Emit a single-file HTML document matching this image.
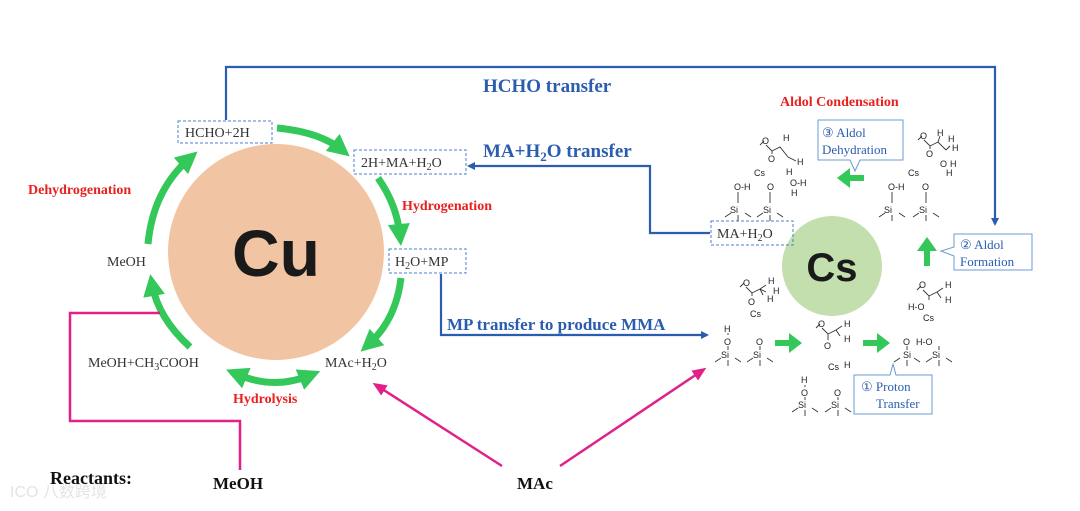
<!DOCTYPE html>
<html><head><meta charset="utf-8"><style>
html,body{margin:0;padding:0;background:#fff;width:1080px;height:511px;overflow:hidden}
svg{display:block}
.ser{font-family:"Liberation Serif",serif}
.b{font-weight:bold}
.m{font-family:"Liberation Sans",sans-serif;font-size:9px;fill:#222}
.ml{stroke:#333;stroke-width:0.9;fill:none}
</style></head><body>
<svg width="1080" height="511" viewBox="0 0 1080 511" xmlns="http://www.w3.org/2000/svg">
<defs>
<marker id="bl" markerWidth="8" markerHeight="8" refX="6" refY="4" orient="auto" markerUnits="userSpaceOnUse"><path d="M0,0 L8,4 L0,8 z" fill="#2a5db0"/></marker>
<marker id="mg" markerWidth="14" markerHeight="12" refX="10" refY="6" orient="auto" markerUnits="userSpaceOnUse"><path d="M0,0 L14,6 L0,12 z" fill="#e0218a"/></marker>
<marker id="gr" markerWidth="22" markerHeight="22" refX="12" refY="11" orient="auto" markerUnits="userSpaceOnUse"><path d="M0,0 L22,11 L0,22 z" fill="#34c759"/></marker>
<marker id="grs" markerWidth="22" markerHeight="22" refX="8" refY="11" orient="auto-start-reverse" markerUnits="userSpaceOnUse"><path d="M0,0 L22,11 L0,22 z" fill="#34c759"/></marker>
</defs>

<circle cx="276" cy="252" r="108" fill="#f1c4a3"/>
<text x="276" y="276" text-anchor="middle" font-family="Liberation Sans,sans-serif" font-weight="bold" font-size="66" fill="#1a1a1a">Cu</text>
<circle cx="832" cy="266" r="50" fill="#c3dfae"/>
<text x="832" y="281" text-anchor="middle" font-family="Liberation Sans,sans-serif" font-weight="bold" font-size="40" fill="#1a1a1a">Cs</text>

<g stroke="#34c759" stroke-width="7" fill="none">
<path d="M277,128 Q320,132 342,150" marker-end="url(#gr)"/>
<path d="M378,178 Q397,205 400,236" marker-end="url(#gr)"/>
<path d="M401,278 Q396,320 368,345" marker-end="url(#gr)"/>
<path d="M239,375 Q275,390 311,375" marker-start="url(#grs)" marker-end="url(#gr)"/>
<path d="M190,347 Q158,318 152,284" marker-end="url(#gr)"/>
<path d="M148,244 Q153,190 190,158" marker-end="url(#gr)"/>
</g>

<g class="ser" font-size="14" fill="#333">
<rect x="178" y="121" width="94" height="22" fill="none" stroke="#4a7fd0" stroke-dasharray="3,2"/>
<text x="185" y="137">HCHO+2H</text>
<rect x="354" y="150" width="112" height="24" fill="none" stroke="#4a7fd0" stroke-dasharray="3,2"/>
<text x="361" y="167">2H+MA+H<tspan font-size="10" dy="3">2</tspan><tspan dy="-3">O</tspan></text>
<rect x="389" y="249" width="77" height="24" fill="none" stroke="#4a7fd0" stroke-dasharray="3,2"/>
<text x="395" y="266">H<tspan font-size="10" dy="3">2</tspan><tspan dy="-3">O+MP</tspan></text>
<text x="107" y="266">MeOH</text>
<text x="88" y="367">MeOH+CH<tspan font-size="10" dy="3">3</tspan><tspan dy="-3">COOH</tspan></text>
<text x="325" y="367">MAc+H<tspan font-size="10" dy="3">2</tspan><tspan dy="-3">O</tspan></text>
<rect x="711" y="221" width="82" height="24" fill="none" stroke="#4a7fd0" stroke-dasharray="3,2"/>
<text x="717" y="238">MA+H<tspan font-size="10" dy="3">2</tspan><tspan dy="-3">O</tspan></text>
</g>
<g class="ser b" font-size="14" fill="#e8201e">
<text x="28" y="194">Dehydrogenation</text>
<text x="402" y="210">Hydrogenation</text>
<text x="233" y="403">Hydrolysis</text>
<text x="780" y="106">Aldol Condensation</text>
</g>

<g stroke="#2a5db0" stroke-width="2.2" fill="none">
<path d="M226,120 V67 H995 V224" marker-end="url(#bl)"/>
<path d="M710,233 H650 V166 H469" marker-end="url(#bl)"/>
<path d="M441,274 V335 H707" marker-end="url(#bl)"/>
</g>
<g class="ser b" fill="#2a5db0">
<text x="483" y="92" font-size="19">HCHO transfer</text>
<text x="483" y="157" font-size="19">MA+H<tspan font-size="13" dy="4">2</tspan><tspan dy="-4">O transfer</tspan></text>
<text x="447" y="330" font-size="17">MP transfer to produce MMA</text>
</g>

<g stroke="#e0218a" stroke-width="2.5" fill="none">
<path d="M160,313 H70 V421 H240 V470"/>
<path d="M502,466 L376,385" marker-end="url(#mg)"/>
<path d="M560,466 L703,370" marker-end="url(#mg)"/>
</g>
<text x="10" y="497" font-family="Liberation Sans,Noto Sans CJK SC,sans-serif" font-size="16" fill="#e4e4e4">ICO 八数跨境</text>
<g class="ser b" fill="#111">
<text x="50" y="484" font-size="18">Reactants:</text>
<text x="213" y="489" font-size="17">MeOH</text>
<text x="517" y="489" font-size="17">MAc</text>
</g>

<g fill="#34c759">
<path d="M775,340 h14 v-7 l13,10 l-13,10 v-7 h-14 z"/>
<path d="M863,340 h14 v-7 l13,10 l-13,10 v-7 h-14 z"/>
<path d="M924,266 v-15 h-7 l10,-14 l10,14 h-7 v15 z"/>
<path d="M864,175 h-14 v-7 l-13,10 l13,10 v-7 h14 z"/>
</g>

<g fill="#fff" stroke="#6a9bd0" stroke-width="1">
<path d="M818,120 H903 V160 H860 L855,171 L850,160 H818 Z"/>
<path d="M954,234 H1032 V270 H954 V256 L941,251 L954,247 Z"/>
<path d="M854,375 H890 L893,364 L896,375 H932 V414 H854 Z"/>
</g>
<g class="ser" font-size="13" fill="#2a5db0">
<text x="822" y="137">③ Aldol</text>
<text x="822" y="154">Dehydration</text>
<text x="960" y="249">② Aldol</text>
<text x="960" y="266">Formation</text>
<text x="861" y="391">① Proton</text>
<text x="876" y="408">Transfer</text>
</g>

<g class="ml">
<path d="M728,333 v2 M728,346 v4 M721,358 l-6,4 M735,358 l6,4 M728,360 v6"/>
<path d="M760,346 v4 M753,358 l-6,4 M767,358 l6,4 M760,360 v6"/>
<path d="M805,385 v2 M805,397 v3 M798,408 l-6,4 M812,408 l6,4 M805,410 v6"/>
<path d="M838,397 v3 M831,408 l-6,4 M845,408 l6,4 M838,410 v6"/>
<path d="M907,346 v4 M900,358 l-6,4 M914,358 l6,4 M907,360 v6"/>
<path d="M939,346 v4 M932,358 l-6,4 M946,358 l6,4 M939,360 v6"/>
<path d="M738,192 v11 M731,213 l-6,4 M745,213 l6,4 M738,215 v6"/>
<path d="M770,192 v11 M763,213 l-6,4 M777,213 l6,4 M770,215 v6"/>
<path d="M892,192 v11 M885,213 l-6,4 M899,213 l6,4 M892,215 v6"/>
<path d="M926,192 v11 M919,213 l-6,4 M933,213 l6,4 M926,215 v6"/>
<path d="M740,287 l4,-4 M746,287 l6,6 l8,-4 M752,293 v3 M760,289 l6,-4 M760,289 l6,3 M760,289 l3,6"/>
<path d="M816,328 l4,-4 M822,328 l6,6 l8,-4 M828,334 v6 M836,330 l6,-4 M836,330 l4,6"/>
<path d="M917,290 l4,-4 M923,290 l6,6 l8,-4 M929,296 v4 M937,292 l6,-4 M937,292 l4,6"/>
<path d="M760,145 l4,-4 M766,145 l6,6 l8,-4 l8,10 M772,151 v3 M788,157 l8,4"/>
<path d="M918,140 l4,-4 M924,140 l6,6 l8,-4 l8,8 M930,146 v3 M938,142 l2,-6 M946,150 l4,-4"/>
</g>
<g class="m">
<text x="724" y="332">H</text><text x="724" y="345">O</text><text x="721" y="358">Si</text>
<text x="750" y="317">Cs</text><text x="756" y="345">O</text><text x="753" y="358">Si</text>
<text x="743" y="286">O</text><text x="748" y="305">O</text>
<text x="768" y="284">H</text><text x="773" y="294">H</text><text x="767" y="302">H</text>
<text x="801" y="383">H</text><text x="801" y="396">O</text><text x="798" y="408">Si</text>
<text x="828" y="370">Cs</text><text x="834" y="396">O</text><text x="831" y="408">Si</text>
<text x="818" y="327">O</text><text x="824" y="349">O</text>
<text x="844" y="327">H</text><text x="844" y="342">H</text><text x="844" y="368">H</text>
<text x="903" y="345">O</text><text x="903" y="358">Si</text>
<text x="916" y="345">H-O</text><text x="932" y="358">Si</text>
<text x="919" y="288">O</text><text x="908" y="310">H-O</text><text x="923" y="321">Cs</text>
<text x="945" y="288">H</text><text x="945" y="303">H</text>
<text x="734" y="190">O-H</text><text x="730" y="213">Si</text>
<text x="754" y="176">Cs</text><text x="767" y="190">O</text><text x="763" y="213">Si</text>
<text x="762" y="144">O</text><text x="768" y="162">O</text>
<text x="783" y="141">H</text><text x="797" y="165">H</text><text x="786" y="175">H</text>
<text x="790" y="186">O-H</text><text x="791" y="196">H</text>
<text x="888" y="190">O-H</text><text x="884" y="213">Si</text>
<text x="908" y="176">Cs</text><text x="922" y="190">O</text><text x="919" y="213">Si</text>
<text x="920" y="139">O</text><text x="926" y="157">O</text>
<text x="937" y="136">H</text><text x="948" y="142">H</text><text x="952" y="151">H</text>
<text x="940" y="167">O</text><text x="950" y="167">H</text><text x="946" y="176">H</text>
</g>
</svg>
</body></html>
